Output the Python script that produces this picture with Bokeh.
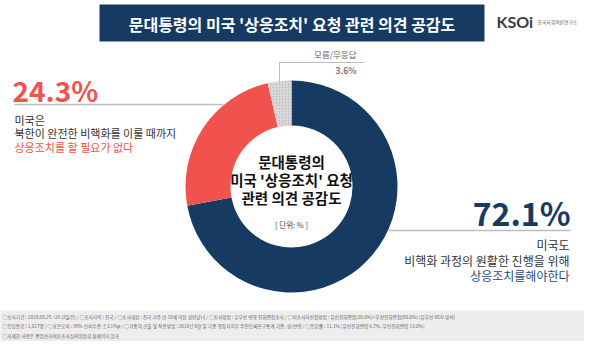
import math
from bokeh.plotting import figure
from bokeh.models import Range1d, ColumnDataSource
from bokeh.core.properties import value
from bokeh.embed import file_html
from bokeh.resources import INLINE

# ---- data ----
categories = ["미국도 상응조치를 해야 한다", "미국은 상응조치를 할 필요가 없다", "모름/무응답"]
shares = [72.1, 24.3, 3.6]
colors = ["#173a63", "#f0534d", "#bdbdbd"]
hatches = [" ", " ", "/"]

title_text = "문대통령의 미국 '상응조치' 요청 관련 의견 공감도"
center_lines = ["문대통령의", "미국 '상응조치' 요청", "관련 의견 공감도"]
unit_text = "[ 단위: % ]"
left_lines = ["미국은", "북한이 완전한 비핵화를 이룰 때까지", "상응조치를 할 필요가 없다"]
right_lines = ["미국도", "비핵화 과정의 원활한 진행을 위해", "상응조치를해야한다"]
dk_label = "모름/무응답"
footer_lines = [
    "○조사기간 : 2018.09.25 ~26 (2일간)  / ○조사지역 : 전국 / ○조사대상 : 전국 거주 만 19세 이상 성인남녀 / ○조사방법 : 유무선 병행 전화면접조사 / ○피조사자선정방법 : 유선전화면접(20.0%)+무선전화면접(80.0%) (유무선 RDD 방식)",
    "○응답완료 : 1,017명 / ○표본오차 : 95% 신뢰수준 ±3.1%p / ○가중치 산출 및 적용방법 : 2018년 8월 말 기준 행정자치부 주민등록인구통계 기준, 성/연령 / ○응답률 : 11.1% (유선전화면접 6.7%, 무선전화면접 13.0%)",
    "○자세한 사항은 중앙선거여론조사심의위원회 홈페이지 참조",
]

FONT = value("Noto Sans CJK KR")
H = 357
def Y(y):
    return H - y

p = figure(width=584, height=341, output_backend="svg", toolbar_location=None,
           x_range=Range1d(8, 592), y_range=Range1d(Y(349), Y(8)),
           min_border=0, background_fill_color="white")
p.axis.visible = False
p.grid.visible = False
p.outline_line_color = None

# footer band
p.quad(left=[0], right=[600], bottom=[Y(351)], top=[Y(318)], fill_color="#ededed", line_color=None)
for i, t in enumerate(footer_lines):
    p.text(x=[10], y=[Y(324 + 9.5 * i)], text=[t], text_font=FONT, text_font_size="4.7px",
           text_color="#666666", text_baseline="middle")

# title bar
p.quad(left=[107], right=[492], bottom=[Y(49)], top=[Y(12)], fill_color="#173a63", line_color=None)
p.text(x=[299.5], y=[Y(31)], text=[title_text], text_font=FONT, text_font_size="16px",
       text_font_style="bold", text_color="white", text_align="center", text_baseline="middle")

# logo
p.text(x=[504], y=[Y(29)], text=["KSOi"], text_font=value("Lato"), text_font_size="16px",
       text_font_style="bold", text_color="#3d3d3d", text_baseline="middle")
p.text(x=[545], y=[Y(29)], text=["한국사회여론연구소"], text_font=FONT, text_font_size="4.8px",
       text_color="#555555", text_baseline="middle")

# donut
cx, cy, r_out, r_in = 299, Y(194), 106, 61
starts, ends = [], []
acc = 0.0
total = sum(shares)
for s in shares:
    starts.append(math.pi / 2 - 2 * math.pi * acc / total)
    acc += s
    ends.append(math.pi / 2 - 2 * math.pi * acc / total)
src = ColumnDataSource(dict(start=starts, end=ends, color=colors, hatch=hatches,
                            x=[cx] * 3, y=[cy] * 3))
p.annular_wedge(x="x", y="y", inner_radius=r_in, outer_radius=r_out, start_angle="start",
                end_angle="end", direction="clock", fill_color="color", line_color=None,
                hatch_pattern="hatch", hatch_color="#e6e6e6", hatch_scale=3, hatch_weight=1,
                source=src)

# center text
for i, t in enumerate(center_lines):
    p.text(x=[cx], y=[Y(169 + 18 * i)], text=[t], text_font=FONT, text_font_size="14.5px",
           text_font_style="bold", text_color="#111111", text_align="center", text_baseline="middle")
p.text(x=[cx], y=[Y(232)], text=[unit_text], text_font=FONT, text_font_size="7.5px",
       text_color="#444444", text_align="center", text_baseline="middle")

# left label (24.3%)
p.text(x=[20], y=[Y(97)], text=[f"{shares[1]}%"], text_font=FONT, text_font_size="28px",
       text_font_style="bold", text_color=colors[1], text_baseline="middle")
p.line(x=[22, 231], y=[Y(112), Y(112)], line_color="#bdbdbd", line_width=1.5)
for i, t in enumerate(left_lines):
    p.text(x=[22], y=[Y(127 + 13.5 * i)], text=[t], text_font=FONT, text_font_size="11px",
           text_color=colors[1] if i == 2 else "#333333", text_baseline="middle")

# right label (72.1%)
p.text(x=[578], y=[Y(219)], text=[f"{shares[0]}%"], text_font=FONT, text_font_size="32px",
       text_font_style="bold", text_color=colors[0], text_align="right", text_baseline="middle")
p.line(x=[396, 578], y=[Y(238), Y(238)], line_color="#bdbdbd", line_width=1.5)
for i, t in enumerate(right_lines):
    p.text(x=[577], y=[Y(252 + 15.5 * i)], text=[t], text_font=FONT, text_font_size="12px",
           text_color="#1f4a7a" if i == 2 else "#333333", text_align="right", text_baseline="middle")

# dk label
p.line(x=[287, 287, 372], y=[Y(91), Y(70), Y(70)], line_color="#bdbdbd", line_width=1)
p.text(x=[364], y=[Y(61)], text=[dk_label], text_font=FONT, text_font_size="8.5px",
       text_color="#666666", text_align="right", text_baseline="middle")
p.text(x=[364], y=[Y(77)], text=[f"{shares[2]}%"], text_font=FONT, text_font_size="8.5px",
       text_font_style="bold", text_color="#777777", text_align="right", text_baseline="middle")

open("out.html", "w").write(file_html(p, INLINE))
